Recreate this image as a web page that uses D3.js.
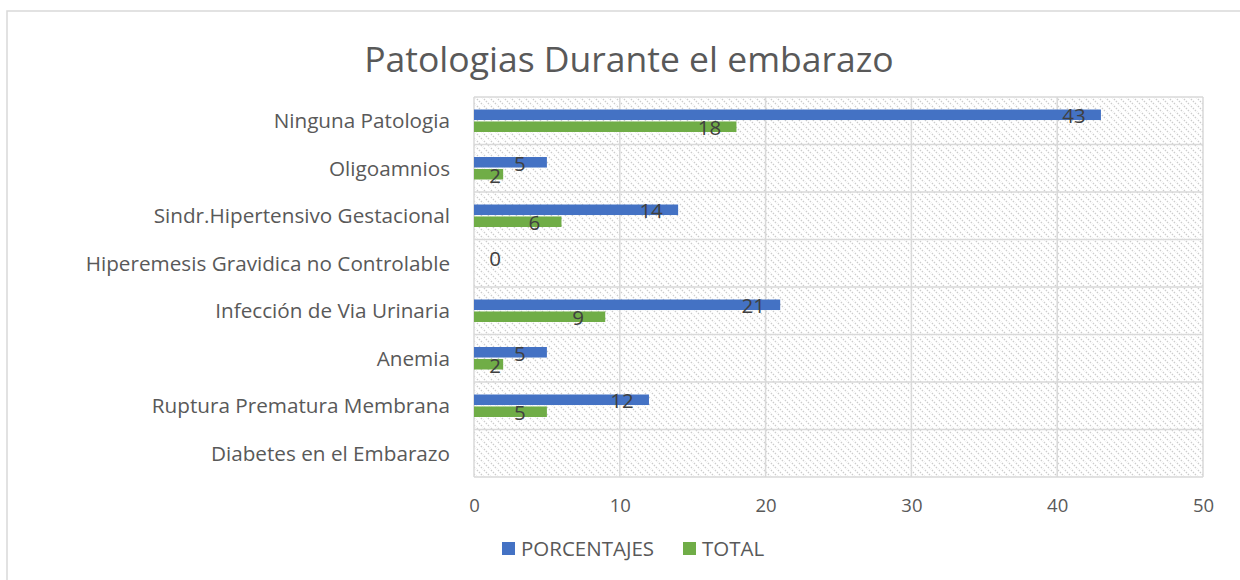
<!DOCTYPE html>
<html>
<head>
<meta charset="utf-8">
<style>
    body { margin: 0; background: #fff; }
    svg { font-family: 'Open Sans', sans-serif; }
    .axis .domain { display: none; }
    .axis .tick line { display: none; }
    .axis .tick text { fill: #595959; font-family: 'Open Sans', sans-serif; }
    .x .tick text { font-size: 18.5px; }
    .y .tick text { font-size: 20.7px; }
    .grid line { stroke: #d9d9d9; stroke-width: 1.5; }
    .label { fill: #404040; font-size: 20.5px; }
</style>
</head>
<body>
<svg width="1240" height="580"></svg>
<script src="https://d3js.org/d3.v7.min.js"></script>
<script>
    // data
    let categories = [
        "Ninguna Patologia",
        "Oligoamnios",
        "Sindr.Hipertensivo Gestacional",
        "Hiperemesis Gravidica no Controlable",
        "Infección de Via Urinaria",
        "Anemia",
        "Ruptura Prematura Membrana",
        "Diabetes en el Embarazo"
    ]
    let porcentajes = [43, 5, 14, 0, 21, 5, 12, null]
    let total = [18, 2, 6, null, 9, 2, 5, null]
    let seriesNames = ["PORCENTAJES", "TOTAL"]
    let seriesColors = ["#4472c4", "#70ad47"]
    let xTicks = [0, 10, 20, 30, 40, 50]

    let svg = d3.select("svg")

    let margin = { top: 97, right: 37, bottom: 103, left: 474 }
    let width = 1240, height = 580

    // outer chart border (only top/left visible)
    svg.append("path")
        .attr("d", `M7,580 V11 H1240`)
        .attr("fill", "none")
        .attr("stroke", "#d9d9d9")
        .attr("stroke-width", 1.5)

    // title
    svg.append("text")
        .attr("x", 629)
        .attr("y", 72)
        .attr("text-anchor", "middle")
        .style("font-size", "35.5px")
        .style("fill", "#595959")
        .text("Patologias Durante el embarazo")

    let x = d3.scaleLinear()
        .domain([0, 50])
        .range([margin.left, width - margin.right])

    let y = d3.scaleBand()
        .domain(categories)
        .range([margin.top, height - margin.bottom])

    let ySub = d3.scaleBand()
        .domain(seriesNames)
        .range([12.5, 35])
        .paddingInner(0.12)

    // hatched plot background
    let defs = svg.append("defs")
    let pat = defs.append("pattern")
        .attr("id", "hatch")
        .attr("patternUnits", "userSpaceOnUse")
        .attr("width", 7)
        .attr("height", 7)
    pat.append("path")
        .attr("d", "M-1,-1 L8,8 M-8,-1 L1,8 M6,-1 L15,8")
        .attr("stroke", "#cccccc")
        .attr("stroke-width", 1.4)
        .attr("stroke-dasharray", "1.4,1.4")

    svg.append("rect")
        .attr("x", x(0))
        .attr("y", margin.top)
        .attr("width", x(50) - x(0))
        .attr("height", height - margin.bottom - margin.top)
        .attr("fill", "url(#hatch)")

    // gridlines
    let grid = svg.append("g").attr("class", "grid")
    grid.selectAll(".v")
        .data(xTicks)
        .join("line")
        .attr("class", "v")
        .attr("x1", d => x(d))
        .attr("x2", d => x(d))
        .attr("y1", margin.top)
        .attr("y2", height - margin.bottom)
    let hLines = categories.map(c => y(c)).concat([height - margin.bottom])
    grid.selectAll(".h")
        .data(hLines)
        .join("line")
        .attr("class", "h")
        .attr("x1", x(0))
        .attr("x2", x(50))
        .attr("y1", d => d)
        .attr("y2", d => d)

    // bars
    let rows = categories.map((c, i) => ({
        cat: c,
        vals: [
            { key: "PORCENTAJES", v: porcentajes[i] },
            { key: "TOTAL", v: total[i] }
        ]
    }))

    let groups = svg.append("g")
        .selectAll("g")
        .data(rows)
        .join("g")
        .attr("transform", d => `translate(0,${y(d.cat)})`)

    groups.selectAll("rect")
        .data(d => d.vals.filter(e => e.v != null))
        .join("rect")
        .attr("x", x(0))
        .attr("y", d => ySub(d.key))
        .attr("width", d => x(d.v) - x(0))
        .attr("height", ySub.bandwidth())
        .attr("fill", d => seriesColors[seriesNames.indexOf(d.key)])

    groups.selectAll("text")
        .data(d => d.vals.filter(e => e.v != null))
        .join("text")
        .attr("class", "label")
        .attr("x", d => Math.max(x(d.v) - 27, x(0) + 21))
        .attr("y", d => ySub(d.key) + ySub.bandwidth() / 2 + 3)
        .attr("text-anchor", "middle")
        .attr("dominant-baseline", "middle")
        .text(d => d.v)

    // axes
    svg.append("g")
        .attr("class", "x axis")
        .attr("transform", `translate(0,${height - margin.bottom})`)
        .call(d3.axisBottom(x).tickValues(xTicks).tickSize(0).tickPadding(22))

    svg.append("g")
        .attr("class", "y axis")
        .attr("transform", `translate(${margin.left},0)`)
        .call(d3.axisLeft(y).tickSize(0).tickPadding(24))
        .selectAll("text")
        .attr("dy", "0.35em")

    // legend
    let leg = svg.append("g")
        .attr("transform", "translate(502,542)")
    let legX = [0, 181]
    seriesNames.forEach((s, i) => {
        leg.append("rect")
            .attr("x", legX[i])
            .attr("y", 0)
            .attr("width", 13)
            .attr("height", 13)
            .attr("fill", seriesColors[i])
        leg.append("text")
            .attr("x", legX[i] + 19)
            .attr("y", 14)
            .style("font-size", "20.5px")
            .style("fill", "#595959")
            .text(s)
    })
</script>
</body>
</html>
